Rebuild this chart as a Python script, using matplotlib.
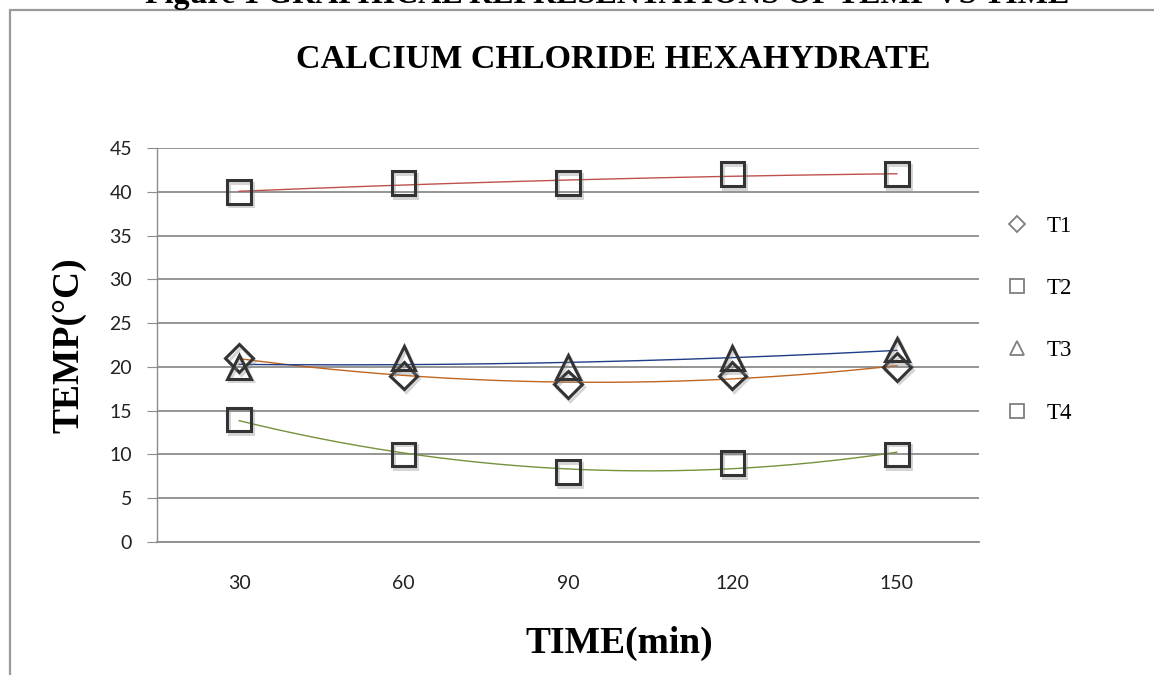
import numpy as np
import matplotlib
matplotlib.use("Agg")
import matplotlib.pyplot as plt
import matplotlib.patheffects as pe
from matplotlib.patches import Rectangle
from matplotlib.lines import Line2D

# data
times = ["30", "60", "90", "120", "150"]
t1 = [21, 19, 18, 19, 20]
t2 = [40, 41, 41, 42, 42]
t3 = [20, 21, 20, 21, 22]
t4 = [14, 10, 8, 9, 10]

series_names = ["T1", "T2", "T3", "T4"]
series_vals = [t1, t2, t3, t4]
markers = ["D", "s", "^", "s"]
trend_colors = ["#c0651f", "#c0504d", "#1f3c88", "#76923c"]
yticks = [0, 5, 10, 15, 20, 25, 30, 35, 40, 45]

W, H = 1154, 675
fig = plt.figure(figsize=(W / 100, H / 100), dpi=100)

# chart frame (cut off at right and bottom)
fig.patches.append(Rectangle((10 / W, -0.1), 1.2, 1.1 - 10 / H, transform=fig.transFigure,
                             fill=False, edgecolor="#9a9a9a", linewidth=1.6, zorder=0))

# figure caption, cut at top of the picture
fig.text(607 / W, 1 - 3.5 / H, "Figure 1 GRAPHICAL REPRESENTATIONS OF TEMP VS TIME",
         family="Liberation Serif", weight="bold", fontsize=23, ha="center", va="baseline")

ax = fig.add_axes([157 / W, 1 - 542 / H, (979 - 157) / W, (542 - 148) / H])
x = np.arange(len(times))

for vals, m, c in zip(series_vals, markers, trend_colors):
    # polynomial (order 2) trendline like the spreadsheet
    coef = np.polyfit(x, vals, 2)
    xs = np.linspace(x[0], x[-1], 200)
    ax.plot(xs, np.polyval(coef, xs), color=c, lw=1.0, zorder=3)
    ms = 14 if m == "D" else 17
    ax.plot(x, vals, linestyle="none", marker=m, markersize=ms, markerfacecolor="none",
            markeredgecolor="#333333", markeredgewidth=2.2, zorder=4,
            path_effects=[pe.SimpleLineShadow(offset=(1.5, -2), shadow_color="#888888", alpha=0.35),
                          pe.Normal()])

ax.set_xlim(-0.5, len(times) - 0.5)
ax.set_ylim(0, 45)
ax.set_yticks(yticks)
ax.set_xticks(x)
ax.set_xticklabels(times)
ax.grid(axis="y", color="#8c8c8c", lw=1.3)
ax.set_axisbelow(True)
for s in ["top", "right"]:
    ax.spines[s].set_visible(False)
ax.spines["left"].set_color("#8c8c8c")
ax.spines["bottom"].set_color("#8c8c8c")
ax.spines["left"].set_linewidth(1.0)
ax.spines["bottom"].set_linewidth(1.3)
ax.tick_params(axis="y", length=7, color="#8c8c8c", pad=11, labelsize=14, labelcolor="#222222")
ax.tick_params(axis="x", length=0, pad=24, labelsize=14, labelcolor="#222222")
for lab in ax.get_xticklabels() + ax.get_yticklabels():
    lab.set_family("Lato")

fig.text(613 / W, 1 - 60 / H, "CALCIUM CHLORIDE HEXAHYDRATE", family="Liberation Serif",
         weight="bold", fontsize=24.5, ha="center", va="center")
fig.text(69 / W, 1 - 345 / H, "TEMP(\u00b0C)", family="Liberation Serif", weight="bold",
         fontsize=27, rotation=90, ha="center", va="center")
fig.text(619 / W, 1 - 643 / H, "TIME(min)", family="Liberation Serif", weight="bold",
         fontsize=27, ha="center", va="center")

# legend
handles = [Line2D([], [], linestyle="none", marker=m, markersize=(8 if m == "D" else 10),
                  markerfacecolor="none", markeredgecolor="#7f7f7f", markeredgewidth=1.3)
           for m in markers]
fig.legend(handles, series_names, loc="upper left", bbox_to_anchor=(985 / W, 1 - 195 / H),
           frameon=False, prop={"family": "Liberation Serif", "size": 16.5},
           labelspacing=1.8, handletextpad=0.8, handlelength=1.0)

fig.savefig("out.png", dpi=100)
